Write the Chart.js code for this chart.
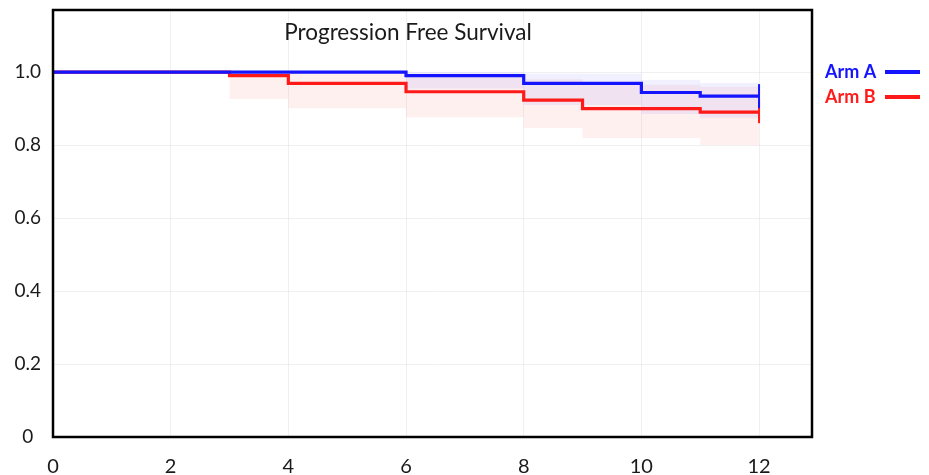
<!DOCTYPE html>
<html>
<head>
<meta charset="utf-8">
<script src="https://cdn.jsdelivr.net/npm/chart.js@4"></script>
<style>
  body { margin: 0; background: #fff; }
  #wrap { width: 929px; height: 475px; position: relative; }
</style>
</head>
<body>
<div id="wrap"><canvas id="pfsChart"></canvas></div>
<script>
// Data (months, survival probability)
const armATimes = [0, 6, 8, 10, 11, 12];
const armASurv = [1.0, 0.990, 0.969, 0.944, 0.934, 0.934];
const armBTimes = [0, 3, 4, 6, 8, 9, 11, 12];
const armBSurv = [1.0, 0.990, 0.969, 0.946, 0.923, 0.900, 0.890, 0.890];

// Confidence bands
const armABandTimes = [6, 8, 10, 11, 12];
const armAUpper = [1.0, 0.995, 0.978, 0.970, 0.970];
const armALower = [0.955, 0.910, 0.885, 0.875, 0.875];
const armBBandTimes = [3, 4, 6, 8, 9, 11, 12];
const armBUpper = [1.0, 1.0, 0.990, 0.980, 0.965, 0.960, 0.960];
const armBLower = [0.926, 0.901, 0.876, 0.847, 0.819, 0.800, 0.800];

// Censor marks at last follow-up
const censorTime = 12;

const xTicks = [0, 2, 4, 6, 8, 10, 12];
const yTicks = [0, 0.2, 0.4, 0.6, 0.8, 1.0];

const BLUE = '#1414ff';
const RED = '#ff1a1a';
const FONT = 'Lato, "Open Sans", sans-serif';

function pts(xs, ys) {
    return xs.map((x, i) => ({ x: x, y: ys[i] }));
}

function stepLine(label, data, color) {
    return {
        label: label,
        data: data,
        borderColor: color,
        borderWidth: 3.2,
        stepped: true,
        pointRadius: 0,
        fill: false
    };
}

function band(data, fillColor, fillTarget) {
    return {
        data: data,
        borderWidth: 0,
        borderColor: 'rgba(0,0,0,0)',
        backgroundColor: fillColor,
        stepped: true,
        pointRadius: 0,
        fill: fillTarget
    };
}

// no extra padding from the tick labels, keeps the box where it is in the picture
function noPad(s) {
    s.paddingTop = 0;
    s.paddingBottom = 0;
    s.paddingLeft = 0;
    s.paddingRight = 0;
}

// Title, legend and the frame box
const decorations = {
    id: 'decorations',
    afterDraw(chart) {
        const { ctx, chartArea } = chart;
        ctx.save();
        ctx.strokeStyle = '#000';
        ctx.lineWidth = 2.5;
        ctx.strokeRect(chartArea.left, chartArea.top, chartArea.right - chartArea.left, chartArea.bottom - chartArea.top);

        ctx.fillStyle = '#1a1a1a';
        ctx.font = '22.5px ' + FONT;
        ctx.textAlign = 'center';
        ctx.textBaseline = 'middle';
        ctx.fillText('Progression Free Survival', chartArea.left + 355, 33);

        const legend = [['Arm A', BLUE, 72], ['Arm B', RED, 97]];
        ctx.font = 'bold 18px ' + FONT;
        ctx.textAlign = 'left';
        legend.forEach(([txt, col, y]) => {
            ctx.fillStyle = col;
            ctx.fillText(txt, chartArea.right + 13, y);
            ctx.strokeStyle = col;
            ctx.lineWidth = 4;
            ctx.beginPath();
            ctx.moveTo(chartArea.right + 73, y);
            ctx.lineTo(chartArea.right + 108, y);
            ctx.stroke();
        });
        ctx.restore();
    }
};

new Chart(document.getElementById('pfsChart'), {
    type: 'line',
    data: {
        datasets: [
            stepLine('Arm A', pts(armATimes, armASurv), BLUE),
            stepLine('Arm B', pts(armBTimes, armBSurv), RED),
            {
                data: [{ x: censorTime, y: armASurv[armASurv.length - 1] }],
                showLine: false,
                pointStyle: 'line',
                rotation: 90,
                pointRadius: 12,
                borderWidth: 2,
                borderColor: BLUE
            },
            {
                data: [{ x: censorTime, y: armBSurv[armBSurv.length - 1] }],
                showLine: false,
                pointStyle: 'line',
                rotation: 90,
                pointRadius: 11,
                borderWidth: 2,
                borderColor: RED
            },
            band(pts(armABandTimes, armAUpper), 'rgba(40,40,255,0.07)', '+1'),
            band(pts(armABandTimes, armALower), 'rgba(0,0,0,0)', false),
            band(pts(armBBandTimes, armBUpper), 'rgba(255,40,40,0.07)', '+1'),
            band(pts(armBBandTimes, armBLower), 'rgba(0,0,0,0)', false)
        ]
    },
    options: {
        responsive: true,
        maintainAspectRatio: false,
        animation: false,
        // censor markers would otherwise push the plot box down
        layout: { autoPadding: false, padding: { top: 10, right: 117, left: 0, bottom: 0 } },
        plugins: {
            legend: { display: false },
            tooltip: { enabled: false }
        },
        scales: {
            x: {
                type: 'linear',
                min: 0,
                max: 12.9,
                afterFit: s => { s.height = 38; noPad(s); },
                afterBuildTicks: s => { s.ticks = xTicks.map(v => ({ value: v })); },
                grid: { color: 'rgba(0,0,0,0.06)', drawTicks: false },
                border: { display: false },
                ticks: {
                    includeBounds: false,
                    padding: 18,
                    color: '#1a1a1a',
                    font: { family: FONT, size: 20 }
                }
            },
            y: {
                min: 0,
                max: 1.17,
                afterFit: s => { s.width = 53; noPad(s); },
                afterBuildTicks: s => { s.ticks = yTicks.map(v => ({ value: v })); },
                grid: { color: 'rgba(0,0,0,0.06)', drawTicks: false },
                border: { display: false },
                ticks: {
                    includeBounds: false,
                    padding: 12,
                    crossAlign: 'center',
                    color: '#1a1a1a',
                    font: { family: FONT, size: 19 },
                    callback: v => v === 0 ? '0' : v.toFixed(1)
                }
            }
        }
    },
    plugins: [decorations]
});
</script>
</body>
</html>
